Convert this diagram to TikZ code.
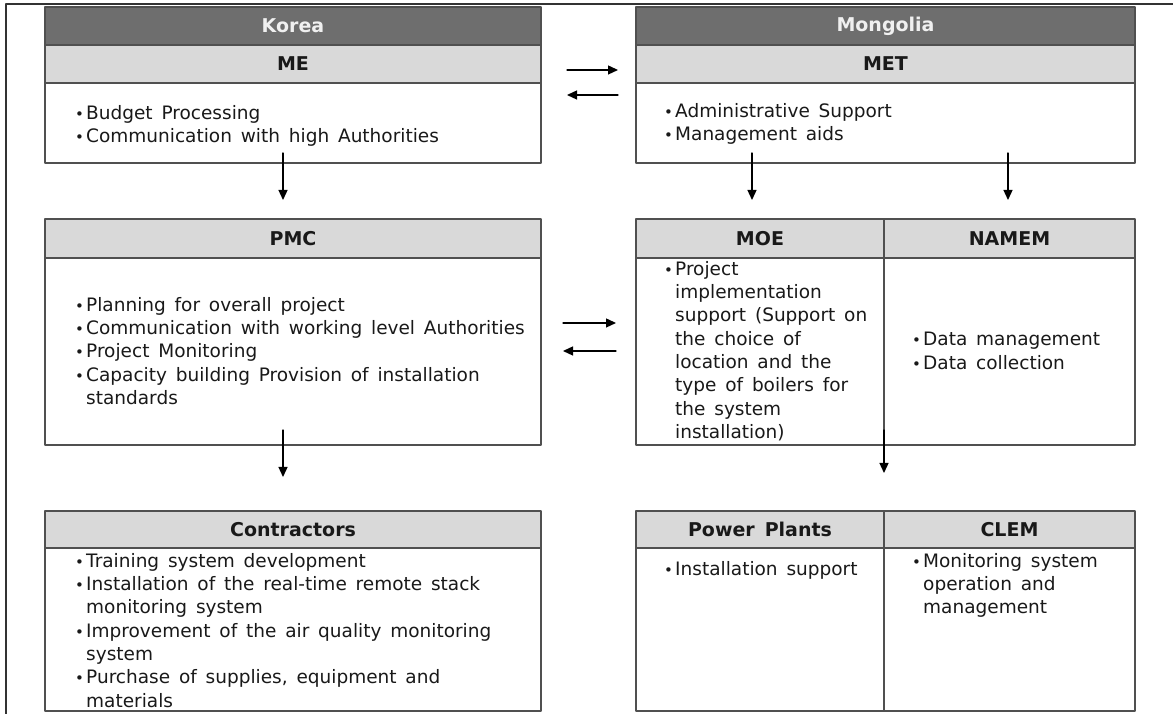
\documentclass[tikz,border=0pt]{standalone}
\usepackage{fontspec}
\setmainfont{DejaVu Sans}[WordSpace=1.5]
\usetikzlibrary{arrows.meta}
\definecolor{hdrdark}{HTML}{6E6E6E}
\definecolor{hdrlight}{HTML}{D9D9D9}
\definecolor{edgegray}{HTML}{505050}
\newcommand{\itm}{\makebox[11pt][l]{\fontsize{15}{15}\selectfont\textbullet}}
\newcommand{\cnt}{\hspace*{11pt}}

\begin{document}
\begin{tikzpicture}[x=1pt,y=1pt,>={Triangle[length=10pt,width=9pt]},line cap=round,line join=round,
  country/.style={draw=edgegray,line width=1.6pt,fill=hdrdark,text=white!94!black,anchor=north west,inner sep=0pt,outer sep=0pt,minimum height=38pt,font=\fontsize{19}{21}\selectfont\bfseries},
  title/.style={draw=edgegray,line width=1.6pt,fill=hdrlight,text=black!90,anchor=north west,inner sep=0pt,outer sep=0pt,font=\fontsize{19}{21}\selectfont\bfseries},
  panel/.style={draw=edgegray,line width=1.6pt,fill=white,anchor=north west,inner sep=0pt,outer sep=0pt},
  items/.style={align=left,inner sep=0pt,text=black!90,font=\fontsize{18.5}{23.3}\selectfont},
  flow/.style={->,line width=1.3pt}]
\useasboundingbox (0,0) rectangle (1173,714);
\draw[line width=2pt,black!80] (5.5,0) -- (5.5,710) -- (1173,710);

\node[country,minimum width=496pt] (korea) at (45,707) {Korea};
\node[title,minimum width=496pt,minimum height=38pt] (me) at (korea.south west) {ME};
\node[panel,minimum width=496pt,minimum height=80pt] (mebody) at (me.south west) {};
\node[items,anchor=west] (metext) at (75,588) {\itm Budget Processing\\\itm Communication with high Authorities};

\node[country,minimum width=499pt] (mongolia) at (636,707) {Mongolia};
\node[title,minimum width=499pt,minimum height=38pt] (met) at (mongolia.south west) {MET};
\node[panel,minimum width=499pt,minimum height=80pt] (metbody) at (met.south west) {};
\node[items,anchor=west] (mettext) at (664,590) {\itm Administrative Support\\\itm Management aids};

\node[title,minimum width=496pt,minimum height=39pt] (pmc) at (45,495) {PMC};
\node[panel,minimum width=496pt,minimum height=187pt] (pmcbody) at (pmc.south west) {};
\node[items,anchor=west] (pmctext) at (75,363) {\itm Planning for overall project\\\itm Communication with working level Authorities\\\itm Project Monitoring\\\itm Capacity building Provision of installation\\\cnt standards};

\node[title,minimum width=248pt,minimum height=39pt] (moe) at (636,495) {MOE};
\node[title,minimum width=251pt,minimum height=39pt] (namem) at (moe.north east) {NAMEM};
\node[panel,minimum width=248pt,minimum height=187pt] (moebody) at (moe.south west) {};
\node[panel,minimum width=251pt,minimum height=187pt] (namembody) at (namem.south west) {};
\node[items,anchor=north west] (moetext) at (664,453) {\itm Project\\\cnt implementation\\\cnt support (Support on\\\cnt the choice of\\\cnt location and the\\\cnt type of boilers for\\\cnt the system\\\cnt installation)};
\node[items,anchor=west] (namemtext) at (912,363) {\itm Data management\\\itm Data collection};

\node[title,minimum width=496pt,minimum height=37pt] (contr) at (45,203) {Contractors};
\node[panel,minimum width=496pt,minimum height=163pt] (contrbody) at (contr.south west) {};
\node[items,anchor=north west] (contrtext) at (75,161) {\itm Training system development\\\itm Installation of the real-time remote stack\\\cnt monitoring system\\\itm Improvement of the air quality monitoring\\\cnt system\\\itm Purchase of supplies, equipment and\\\cnt materials};

\node[title,minimum width=248pt,minimum height=37pt] (plants) at (636,203) {Power Plants};
\node[title,minimum width=251pt,minimum height=37pt] (clem) at (plants.north east) {CLEM};
\node[panel,minimum width=248pt,minimum height=163pt] (plantsbody) at (plants.south west) {};
\node[panel,minimum width=251pt,minimum height=163pt] (clembody) at (clem.south west) {};
\node[items,anchor=north west] (plantstext) at (664,153) {\itm Installation support};
\node[items,anchor=north west] (clemtext) at (912,161) {\itm Monitoring system\\\cnt operation and\\\cnt management};

\coordinate (topr1) at (567,644);
\coordinate (topr2) at (618,644);
\coordinate (topl1) at (618,619);
\coordinate (topl2) at (567,619);
\coordinate (midr1) at (563,391);
\coordinate (midr2) at (616,391);
\coordinate (midl1) at (616,363);
\coordinate (midl2) at (563,363);
\draw[flow] (topr1) -- (topr2);
\draw[flow] (topl1) -- (topl2);
\draw[flow] (midr1) -- (midr2);
\draw[flow] (midl1) -- (midl2);

\coordinate (dme1) at (283,561);
\coordinate (dme2) at (283,514);
\coordinate (dmoe1) at (752,561);
\coordinate (dmoe2) at (752,514);
\coordinate (dnam1) at (1008,561);
\coordinate (dnam2) at (1008,514);
\coordinate (dpmc1) at (283,284);
\coordinate (dpmc2) at (283,237);
\coordinate (dmid1) at (884,284);
\coordinate (dmid2) at (884,241);
\draw[flow] (dme1) -- (dme2);
\draw[flow] (dmoe1) -- (dmoe2);
\draw[flow] (dnam1) -- (dnam2);
\draw[flow] (dpmc1) -- (dpmc2);
\draw[flow] (dmid1) -- (dmid2);
\end{tikzpicture}
\end{document}
